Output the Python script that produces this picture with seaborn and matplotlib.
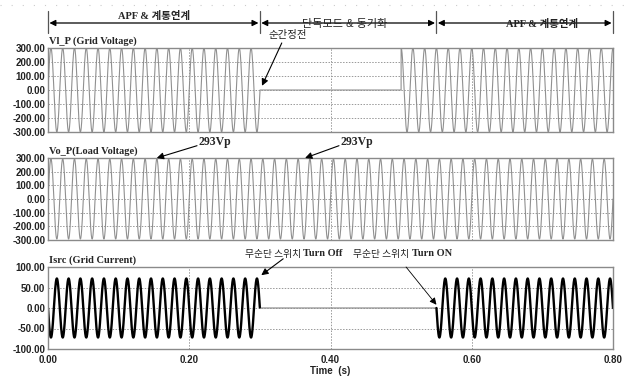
import numpy as np
import pandas as pd
import matplotlib
matplotlib.use("Agg")
import matplotlib.pyplot as plt
import matplotlib.transforms as mtransforms
import seaborn as sns

# ---- values ----
freq_hz = 60.0
grid_amp = 300.0          # Vl_P peak
load_amp = 293.0          # Vo_P peak (293Vp)
current_amp = 72.0        # Isrc peak
outage_start = 0.30       # 순간정전
outage_end = 0.50         # grid voltage back
switch_off = 0.30         # 무순단 스위치 Turn Off
switch_on = 0.55          # 무순단 스위치 Turn ON
resume_phase_deg = 90.0
mode_bounds = [0.0, 0.30, 0.55, 0.80]
mode_labels = ["APF & 계통연계", "단독모드 & 동기화", "APF & 계통연계"]
volt_ticks = [300, 200, 100, 0, -100, -200, -300]
curr_ticks = [100, 50, 0, -50, -100]
x_ticks = [0.0, 0.2, 0.4, 0.6, 0.8]
vp_points = [0.154, 0.364]

t = np.linspace(0, 0.8, 16001)
w = 2 * np.pi * freq_hz
vl = np.where(t < outage_start, grid_amp * np.sin(w * t),
              np.where(t < outage_end, 0.0,
                       grid_amp * np.sin(w * t + np.deg2rad(resume_phase_deg))))
vo = load_amp * np.sin(w * t)
isrc = np.where((t < switch_off) | (t >= switch_on), -current_amp * np.sin(w * t), 0.0)
segment = np.where(t < switch_off, "on1", np.where(t < switch_on, "off", "on2"))
df = pd.DataFrame({"t": t, "vl": vl, "vo": vo, "isrc": isrc, "segment": segment})

sns.set_style("white")
plt.rcParams["font.family"] = ["Liberation Sans", "Noto Sans CJK KR"]

W, H = 628, 376
fig = plt.figure(figsize=(W / 100, H / 100), dpi=100)
left = 48 / W
width = (613 - 48) / W

def add_ax(top_px, bot_px):
    return fig.add_axes([left, 1 - bot_px / H, width, (bot_px - top_px) / H])

ax1 = add_ax(48, 132)
ax2 = add_ax(158, 240)
ax3 = add_ax(267, 349)

sns.lineplot(data=df, x="t", y="vl", ax=ax1, color="#909090", linewidth=0.8)
sns.lineplot(data=df, x="t", y="vo", ax=ax2, color="#909090", linewidth=0.8)
sns.lineplot(data=df[df.segment == "off"], x="t", y="isrc", ax=ax3, color="#909090", linewidth=0.9)
sns.lineplot(data=df[df.segment == "on1"], x="t", y="isrc", ax=ax3, color="black", linewidth=1.7)
sns.lineplot(data=df[df.segment == "on2"], x="t", y="isrc", ax=ax3, color="black", linewidth=1.7)

for ax, ticks in [(ax1, volt_ticks), (ax2, volt_ticks), (ax3, curr_ticks)]:
    ax.set_xlim(0, 0.8)
    ax.set_ylim(min(ticks), max(ticks))
    ax.set_yticks(ticks)
    ax.set_yticklabels([f"{v:.2f}" for v in ticks], fontsize=7, fontweight="bold", color="#222222")
    ax.set_xticks(x_ticks)
    ax.set_xlabel("")
    ax.set_ylabel("")
    ax.tick_params(axis="both", length=0, pad=2)
    for v in ticks[1:-1]:
        ax.axhline(v, color="#999999", linestyle=(0, (1.5, 1.5)), linewidth=0.7, zorder=0)
    for xv in x_ticks[1:-1]:
        ax.axvline(xv, color="#999999", linestyle=(0, (1.5, 1.5)), linewidth=0.7, zorder=0)
    for s in ax.spines.values():
        s.set_color("#8a8a8a")
        s.set_linewidth(1.0)

ax1.set_xticklabels([])
ax2.set_xticklabels([])
ax3.set_xticklabels([f"{v:.2f}" for v in x_ticks], fontsize=7, fontweight="bold", color="#222222")
ax3.tick_params(axis="x", pad=4)
fig.text((48 + 613) / 2 / W, 1 - 371 / H, "Time  (s)", ha="center", va="center",
         fontsize=7, fontweight="bold", color="#222222")

serif = ["Liberation Serif", "Noto Sans CJK KR"]
ax1.text(0.002, 1.02, "Vl_P (Grid Voltage)", transform=ax1.transAxes, fontsize=7.5,
         fontweight="bold", family=serif, va="bottom", ha="left")
ax2.text(0.002, 1.02, "Vo_P(Load Voltage)", transform=ax2.transAxes, fontsize=7.5,
         fontweight="bold", family=serif, va="bottom", ha="left")
ax3.text(0.002, 1.02, "Isrc (Grid Current)", transform=ax3.transAxes, fontsize=7.5,
         fontweight="bold", family=serif, va="bottom", ha="left")

# ---- header: mode arrows ----
tr = mtransforms.blended_transform_factory(ax1.transData, fig.transFigure)
y_arrow = 1 - 23 / H
for b in mode_bounds:
    fig.add_artist(plt.Line2D([b, b], [1 - 11 / H, 1 - 33 / H], transform=tr,
                              color="#555555", linewidth=0.9))
label_shift = [0.0, -0.005, 0.024]
for i, lab in enumerate(mode_labels):
    a, b = mode_bounds[i], mode_bounds[i + 1]
    ax1.annotate("", xy=(b - 0.002, y_arrow), xytext=(a + 0.002, y_arrow),
                 xycoords=tr, textcoords=tr, annotation_clip=False,
                 arrowprops=dict(arrowstyle="<|-|>", color="black", lw=0.9,
                                 mutation_scale=9, shrinkA=0, shrinkB=0))
    cx = (a + b) / 2 + label_shift[i]
    if i == 0:
        ax1.text(cx, y_arrow + 2 / H, lab, transform=tr, ha="center", va="bottom",
                 fontsize=7.5, fontweight="bold", family=serif)
    elif i == 1:
        ax1.text(cx, y_arrow - 1 / H, lab, transform=tr, ha="center", va="center",
                 fontsize=8, family=["Liberation Sans", "Noto Sans CJK KR"], color="#222222")
    else:
        ax1.text(cx, y_arrow - 1 / H, lab, transform=tr, ha="center", va="center",
                 fontsize=7.5, fontweight="bold", family=serif, color="#222222")
fig.add_artist(plt.Line2D([0.0, 1.0], [1 - 5 / H, 1 - 5 / H], transform=fig.transFigure,
                          color="#cccccc", linewidth=0.8, linestyle=(0, (1, 9))))

arrow_kw = dict(arrowstyle="-|>", color="black", lw=0.8, mutation_scale=10,
                shrinkA=0, shrinkB=0)

# 순간정전
tr1 = mtransforms.blended_transform_factory(ax1.transData, ax1.transAxes)
ax1.annotate("", xy=(outage_start + 0.003, 30), xytext=(0.331, 1.06),
             textcoords=tr1, annotation_clip=False, arrowprops=arrow_kw)
ax1.text(0.340, 1.15, "순간정전", transform=tr1, ha="center", va="center",
         fontsize=7.5, color="#222222", family=["Noto Sans CJK KR"])

# 293Vp
tr2 = mtransforms.blended_transform_factory(ax2.transData, ax2.transAxes)
vp_offsets = [0.082, 0.073]
for xv, off in zip(vp_points, vp_offsets):
    ax2.annotate("", xy=(xv, 300), xytext=(xv + off - 0.025, 1.15),
                 textcoords=tr2, annotation_clip=False, arrowprops=arrow_kw)
    ax2.text(xv + off, 1.19, "293Vp", transform=tr2, ha="center", va="center",
             fontsize=8.5, fontweight="bold", family=serif)

# bottom annotations
tr3 = mtransforms.blended_transform_factory(ax3.transData, ax3.transAxes)
ax3.annotate("", xy=(switch_off + 0.002, 80), xytext=(switch_off + 0.033, 1.10),
             textcoords=tr3, annotation_clip=False, arrowprops=arrow_kw)
ax3.text(switch_off + 0.061, 1.16, "무순단 스위치 ", transform=tr3, ha="right", va="center",
         fontsize=7, family=["Noto Sans CJK KR"], color="#222222")
ax3.text(switch_off + 0.061, 1.16, "Turn Off", transform=tr3, ha="left", va="center",
         fontsize=7.5, fontweight="bold", family=serif)
ax3.annotate("", xy=(switch_on, 8), xytext=(switch_on - 0.043, 1.0),
             textcoords=tr3, annotation_clip=False,
             arrowprops=dict(arrowstyle="-|>", color="black", lw=0.6, mutation_scale=10,
                             shrinkA=0, shrinkB=0))
ax3.text(switch_on - 0.035, 1.16, "무순단 스위치 ", transform=tr3, ha="right", va="center",
         fontsize=7, family=["Noto Sans CJK KR"], color="#222222")
ax3.text(switch_on - 0.035, 1.16, "Turn ON", transform=tr3, ha="left", va="center",
         fontsize=7.5, fontweight="bold", family=serif)

fig.savefig("out.png", dpi=100)
